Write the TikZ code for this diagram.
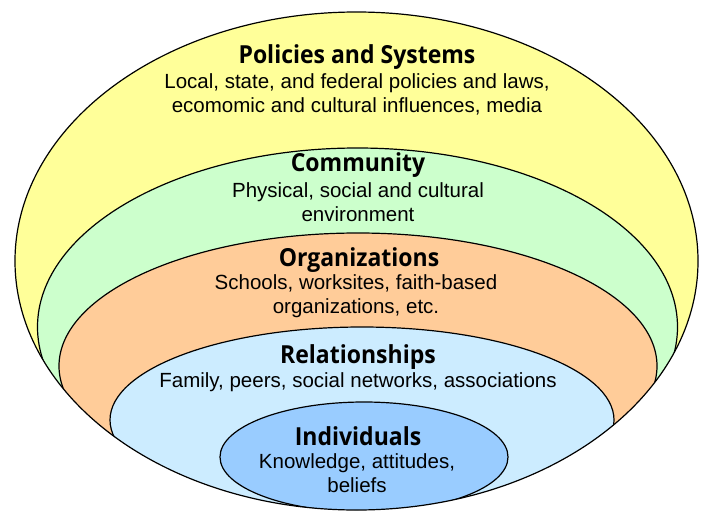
\documentclass[tikz,border=0pt]{standalone}
\usepackage{fontspec}
\setmainfont{Liberation Sans}
\newfontfamily\headfont{Open Sans}
\definecolor{cYellow}{HTML}{FFFF99}
\definecolor{cGreen}{HTML}{CCFFCC}
\definecolor{cOrange}{HTML}{FFCC99}
\definecolor{cLight}{HTML}{CCECFF}
\definecolor{cBlue}{HTML}{99CCFF}
\tikzset{
  ring/.style={draw=black, line width=1.2pt},
  head/.style={font=\headfont\bfseries\fontsize{23}{26}\selectfont, inner sep=0pt, yscale=1.08},
  desc/.style={font=\fontsize{20.5}{24}\selectfont, align=center, inner sep=0pt},
}
\begin{document}
\begin{tikzpicture}[x=1pt,y=-1pt]
\useasboundingbox (0,0) rectangle (708,514);
\fill[cYellow] (356.5,261) ellipse [x radius=341.5, y radius=249];
\begin{scope}
  \clip (356.5,261) ellipse [x radius=341.5, y radius=249];
  \filldraw[ring, fill=cGreen] (357.5,327) ellipse [x radius=320, y radius=179];
  \filldraw[ring, fill=cOrange] (358,366) ellipse [x radius=299, y radius=133];
  \filldraw[ring, fill=cLight] (362,420) ellipse [x radius=252, y radius=93];
  \filldraw[ring, fill=cBlue] (364,457) ellipse [x radius=144, y radius=55];
\end{scope}
\draw[ring] (356.5,261) ellipse [x radius=341.5, y radius=249];

\node[head] (h1) at (357,57) {Policies and Systems};
\node[desc] (d1) at (357,94) {Local, state, and federal policies and laws,\\ ecomomic and cultural influences, media};
\node[head] (h2) at (358,165) {Community};
\node[desc] (d2) at (358,202) {Physical, social and cultural\\environment};
\node[head] (h3) at (359,260) {Organizations};
\node[desc] (d3) at (356,296) {Schools, worksites, faith-based\\organizations, etc.};
\node[head] (h4) at (358,357) {Relationships};
\node[desc] (d4) at (358,382) {Family, peers, social networks, associations};
\node[head] (h5) at (358,436) {Individuals};
\node[desc] (d5) at (357,473) {Knowledge, attitudes,\\beliefs};
\end{tikzpicture}
\end{document}
